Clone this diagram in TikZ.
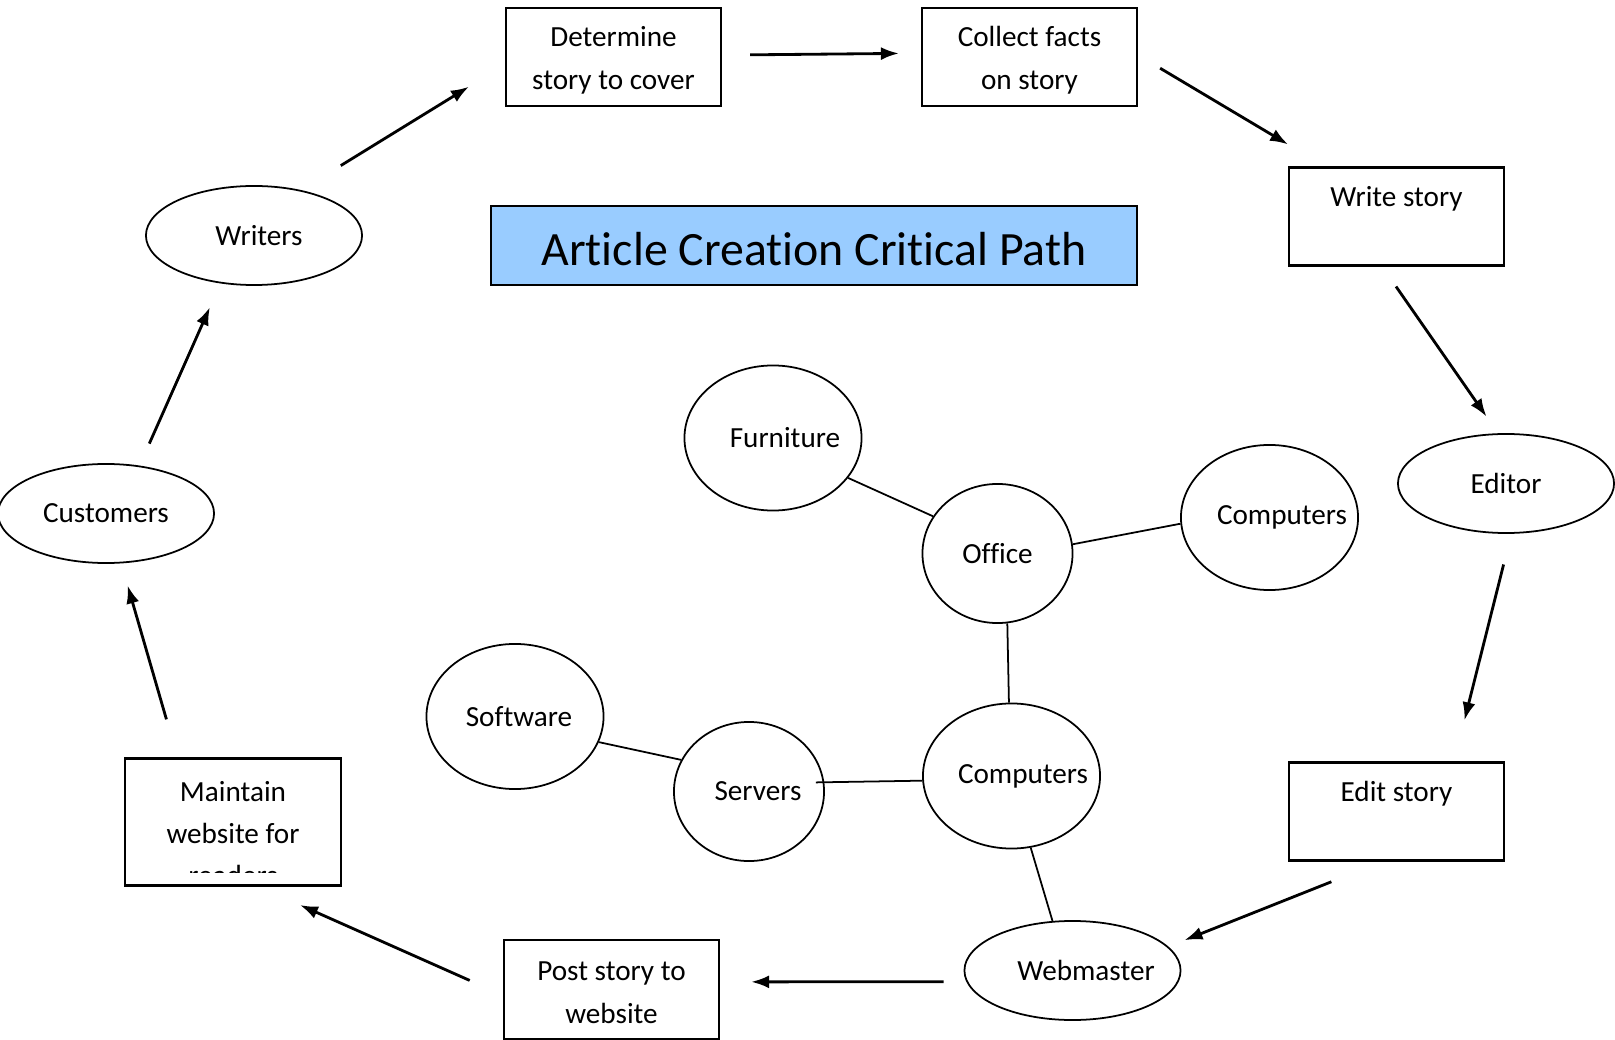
\documentclass[tikz,border=0pt]{standalone}
\usepackage{fontspec}
\setmainfont{Carlito}[Ligatures=NoCommon]
\usetikzlibrary{shapes.geometric,arrows.meta}

\definecolor{titleblue}{HTML}{99CCFF}
\newcommand{\nudged}[2]{\makebox[0pt]{\hspace{#1}#2}}

\tikzset{
  box/.style={draw, line width=0.6pt, minimum width=2.15cm, minimum height=0.98cm,
    inner sep=0pt, align=center, text height=0.39cm, text depth=0.59cm},
  twolines/.style={text height=0.81cm, text depth=0.17cm},
  oval/.style={draw, ellipse, line width=0.5pt, inner sep=0pt},
  wideoval/.style={oval, minimum width=2.16cm, minimum height=0.99cm},
  bigoval/.style={oval, minimum width=1.77cm, minimum height=1.45cm},
  smalloval/.style={oval, minimum width=1.50cm, minimum height=1.39cm},
  flow/.style={line width=0.8pt, -{Latex[length=0.18cm, width=0.13cm]}},
  link/.style={line width=0.5pt}
}

\begin{document}
\begin{tikzpicture}[x=0.01cm, y=-0.01cm, font=\fontsize{8.3}{12}\selectfont]
        \useasboundingbox (0,0) rectangle (1615,1040);

        % Titulo
        \node (title) at (814,245.5) [draw, fill=titleblue, line width=0.6pt, minimum width=6.46cm,
          minimum height=0.79cm, inner sep=0pt, text height=0.40cm, text depth=0cm,
          font=\fontsize{13.6}{16}\selectfont] {Article Creation Critical Path};

        % Pasos del ciclo
        \node (det) at (613.5,57) [box, twolines] {Determine\\story to cover};
        \node (col) at (1029.5,57) [box, twolines] {Collect facts\\on story};
        \node (wri) at (1396.5,216.5) [box] {Write story};
        \node (edi) at (1396.5,811.5) [box] {Edit story};
        \node (post) at (611.5,989.5) [box, twolines, minimum height=0.99cm, text height=0.83cm, text depth=0.16cm] {Post story to\\website};
        \begin{scope}
          \clip (126,762) rectangle (341,872);
          \node (mnt) at (233,822) [box, draw=none, outer sep=0pt, minimum height=1.20cm,
            text height=1.27cm, text depth=-0.07cm] {Maintain\\website for\\readers};
        \end{scope}
        \draw[line width=0.6pt] (mnt.south west) rectangle (mnt.north east);

        % Personas
        \node (writers) at (254,235.5) [wideoval] {\nudged{0.10cm}{Writers}};
        \node (customers) at (106,513.5) [wideoval] {Customers};
        \node (editor) at (1506,483.5) [wideoval] {Editor};
        \node (webm) at (1072.5,970.5) [wideoval] {\nudged{0.27cm}{Webmaster}};

        % Recursos
        \node (furn) at (773,438) [bigoval] {\nudged{0.24cm}{Furniture}};
        \node (office) at (997.5,553.5) [smalloval] {Office};
        \node (compr) at (1269.5,517.5) [bigoval] {\nudged{0.25cm}{Computers}};
        \node (soft) at (515,716.5) [bigoval] {\nudged{0.08cm}{Software}};
        \node (servers) at (749,791.5) [smalloval] {\nudged{0.18cm}{Servers}};
        \node (compl) at (1011.5,776) [bigoval] {\nudged{0.23cm}{Computers}};

        % Flechas del ciclo
        \draw[flow, shorten <=0.466cm, shorten >=0.422cm] (writers.44.4) -- (det.184.8);
        \draw[flow, shorten <=0.28cm, shorten >=0.22cm] (det.1.6) -- (col.178.4);
        \draw[flow, shorten <=0.256cm, shorten >=0.429cm] (col.1.1) -- (wri.145.3);
        \draw[flow, shorten <=0.243cm, shorten >=0.202cm] (wri.254) -- (editor.99.9);
        \draw[flow, shorten <=0.316cm, shorten >=0.424cm] (editor.276.8) -- (edi.41.5);
        \draw[flow, shorten <=0.546cm, shorten >=0.173cm] (edi.254.5) -- (webm.14.2);
        \draw[flow, shorten <=0.227cm, shorten >=0.31cm] (webm.186) -- (post.4.5);
        \draw[flow, shorten <=0.363cm, shorten >=0.48cm] (post.183.2) -- (mnt.290.5);
        \draw[flow, shorten <=0.407cm, shorten >=0.23cm] (mnt.131.7) -- (customers.287.4);
        \draw[flow, shorten <=0.24cm, shorten >=0.26cm] (customers.55.9) -- (writers.235.9);

        % Enlaces
        \draw[link] (furn.-28.1) -- (office.150.5);
        \draw[link] (office.7.3) -- (compr.184.2);
        \draw[link] (office.278.7) -- (compl.92.8);
        \draw[link, shorten <=-0.083cm] (servers.7.3) -- (compl.183.9);
        \draw[link] (soft.-17.1) -- (servers.155.3);
        \draw[link] (compl.285.4) -- (webm.112.1);
\end{tikzpicture}
\end{document}
